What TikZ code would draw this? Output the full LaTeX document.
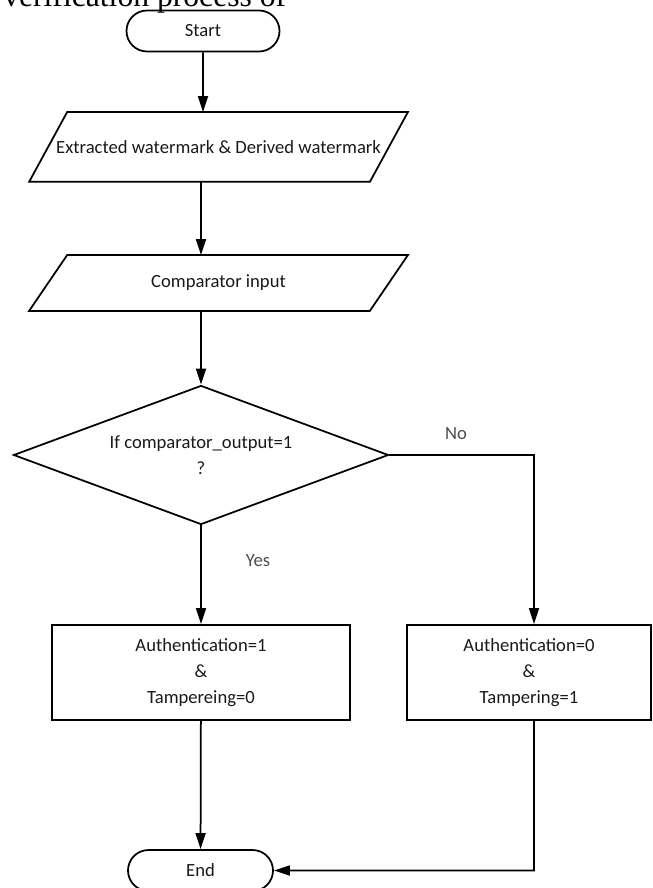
\documentclass[tikz,border=0pt]{standalone}
\usepackage{fontspec}
\setmainfont{Carlito}
\newfontfamily\captionfont{Liberation Serif}
\usepackage{tikz}
\usetikzlibrary{shapes.geometric, shapes.misc, arrows.meta}

\begin{document}
\begin{tikzpicture}[line width=0.35mm, >={Triangle[length=3.2mm,width=2mm]},
    every node/.style={font=\fontsize{10.6}{14.8}\selectfont, text=black!90},
    term/.style={draw, rounded rectangle, minimum width=3.06cm, minimum height=0.82cm, inner sep=0pt},
    io/.style={rectangle, minimum width=6.78cm, inner sep=0pt},
    decision/.style={draw, diamond, aspect=2.7, minimum width=7.5cm, minimum height=2.78cm, inner sep=0pt, align=center},
    result/.style={draw, rectangle, minimum width=5.96cm, minimum height=1.9cm, inner sep=0pt, align=center},
    branch/.style={text=black!70}]
    \useasboundingbox (0,0) rectangle (13.04,-17.76);

    \node[anchor=base east, inner sep=0pt, font=\captionfont\fontsize{18}{20}\selectfont, text=black] (caption) at (5.74,-0.13) {verification process of};

    \node[term] (start) at (4.06,-0.62) {Start};
    \node[io, minimum height=1.36cm] (watermarks) at (4.37,-2.94) {Extracted watermark \& Derived watermark};
    \node[io, minimum height=1.08cm] (compin) at (4.37,-5.66) {Comparator input};

    % parallelogram outlines
    \draw ([xshift=-0.38cm]watermarks.south west) -- ([xshift=0.38cm]watermarks.north west)
          -- ([xshift=0.38cm]watermarks.north east) -- ([xshift=-0.38cm]watermarks.south east) -- cycle;
    \draw ([xshift=-0.38cm]compin.south west) -- ([xshift=0.38cm]compin.north west)
          -- ([xshift=0.38cm]compin.north east) -- ([xshift=-0.38cm]compin.south east) -- cycle;

    \node[decision] (check) at (4.02,-9.10) {If comparator\_output=1\\?};

    \node[result] (auth) at (4.02,-13.45) {Authentication=1\\\&\\Tampereing=0};
    \node[result, minimum width=4.88cm] (tamp) at (10.58,-13.45) {Authentication=0\\\&\\Tampering=1};

    \node[term, minimum width=2.9cm] (end) at (4.01,-17.41) {End};

    \node[branch] (yes) at (5.16,-11.22) {Yes};
    \node[branch] (no) at (9.12,-8.68) {No};

    \coordinate (nobend) at (10.68,-9.10);
    \coordinate (endbend) at (10.68,-17.41);

    \draw[->] (start) -- (start |- watermarks.north);
    \draw[->] (watermarks.south -| check) -- (compin.north -| check);
    \draw[->] (compin.south -| check) -- (check);
    \draw[->] (check) -- (auth);
    \draw[->] (check) -- (nobend) -- (nobend |- tamp.north);
    \draw[->] (auth) -- (end);
    \draw[->] (tamp.south -| nobend) -- (endbend) -- (end);

  \end{tikzpicture}
\end{document}
